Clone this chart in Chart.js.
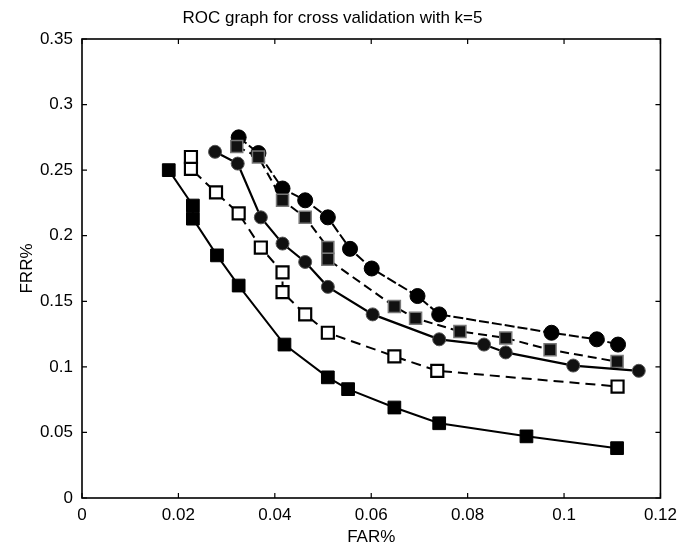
<!DOCTYPE html>
<html>
<head>
<meta charset="utf-8">
<script src="https://cdn.jsdelivr.net/npm/chart.js@4.4.1/dist/chart.umd.min.js"></script>
<style>
  html, body { margin: 0; padding: 0; background: #ffffff; }
  #wrap { width: 684px; height: 549px; }
</style>
</head>
<body>
<div id="wrap"><canvas id="c" width="684" height="549"></canvas></div>
<script>
// ---- data ----
const chartTitle = "ROC graph for cross validation with k=5";
const xAxisTitle = "FAR%";
const yAxisTitle = "FRR%";

const xTicks = [0, 0.02, 0.04, 0.06, 0.08, 0.10, 0.12];
const xTickLabels = ["0", "0.02", "0.04", "0.06", "0.08", "0.1", "0.12"];
const yTicks = [0, 0.05, 0.10, 0.15, 0.20, 0.25, 0.30, 0.35];
const yTickLabels = ["0", "0.05", "0.1", "0.15", "0.2", "0.25", "0.3", "0.35"];

// filled squares, solid line
const farA = [0.018, 0.023, 0.023, 0.028, 0.0325, 0.042, 0.051, 0.0552, 0.0648, 0.0741, 0.0922, 0.111];
const frrA = [0.250, 0.223, 0.213, 0.185, 0.162, 0.117, 0.092, 0.083, 0.069, 0.057, 0.047, 0.038];
// open squares, dashed line
const farB = [0.0226, 0.0226, 0.0278, 0.0325, 0.0371, 0.0416, 0.0416, 0.0463, 0.051, 0.0648, 0.0737, 0.1111];
const frrB = [0.260, 0.251, 0.233, 0.217, 0.191, 0.172, 0.157, 0.140, 0.126, 0.108, 0.097, 0.085];
// filled stars, solid line
const farC = [0.0276, 0.0323, 0.0371, 0.0416, 0.0463, 0.051, 0.0603, 0.0741, 0.0834, 0.0879, 0.1019, 0.1155];
const frrC = [0.264, 0.255, 0.214, 0.194, 0.180, 0.161, 0.140, 0.121, 0.117, 0.111, 0.101, 0.097];
// shaded squares, dashed line
const farD = [0.0321, 0.0366, 0.0416, 0.0463, 0.051, 0.051, 0.0648, 0.0692, 0.0784, 0.0879, 0.0971, 0.111];
const frrD = [0.268, 0.260, 0.227, 0.214, 0.191, 0.182, 0.146, 0.137, 0.127, 0.122, 0.113, 0.104];
// filled circles, dash line
const farE = [0.0325, 0.0366, 0.0416, 0.0463, 0.051, 0.0556, 0.0601, 0.0696, 0.0741, 0.0974, 0.1068, 0.1112];
const frrE = [0.275, 0.263, 0.236, 0.227, 0.214, 0.190, 0.175, 0.154, 0.140, 0.126, 0.121, 0.117];

// ---- chart ----
const FONT = "'Liberation Sans', Arial, Helvetica, sans-serif";
const pts = (xs, ys) => xs.map((x, i) => ({ x: x, y: ys[i] }));

const framePlugin = {
  id: 'frame',
  afterDraw(chart) {
    const { ctx, chartArea: a, scales } = chart;
    ctx.save();
    ctx.strokeStyle = '#000';
    ctx.lineWidth = 1.6;
    ctx.strokeRect(a.left, a.top, a.right - a.left, a.bottom - a.top);
    ctx.lineWidth = 1.2;
    const L = 5;
    ctx.beginPath();
    xTicks.forEach(v => {
      const px = scales.x.getPixelForValue(v);
      ctx.moveTo(px, a.bottom); ctx.lineTo(px, a.bottom - L);
      ctx.moveTo(px, a.top); ctx.lineTo(px, a.top + L);
    });
    yTicks.forEach(v => {
      const py = scales.y.getPixelForValue(v);
      ctx.moveTo(a.left, py); ctx.lineTo(a.left + L, py);
      ctx.moveTo(a.right, py); ctx.lineTo(a.right - L, py);
    });
    ctx.stroke();
    ctx.restore();
  }
};

const bgPlugin = {
  id: 'bg',
  beforeDraw(chart) {
    const ctx = chart.ctx;
    ctx.save();
    ctx.fillStyle = '#fff';
    ctx.fillRect(0, 0, chart.width, chart.height);
    ctx.restore();
  }
};

const common = { showLine: true, borderColor: '#000', pointBorderColor: '#000', tension: 0 };

new Chart(document.getElementById('c'), {
  type: 'scatter',
  data: {
    datasets: [
      Object.assign({}, common, {
        label: 'A', data: pts(farA, frrA), borderWidth: 2,
        pointStyle: 'rect', pointRadius: 9, pointBackgroundColor: '#000', pointBorderWidth: 1
      }),
      Object.assign({}, common, {
        label: 'B', data: pts(farB, frrB), borderWidth: 2, borderDash: [10, 6],
        pointStyle: 'rect', pointRadius: 8.5, pointBackgroundColor: '#fff', pointBorderWidth: 2.2
      }),
      Object.assign({}, common, {
        label: 'C', data: pts(farC, frrC), borderWidth: 2.2,
        pointStyle: 'circle', pointRadius: 6.5, pointBackgroundColor: '#111', pointBorderWidth: 1,
        pointBorderColor: '#555'
      }),
      Object.assign({}, common, {
        label: 'D', data: pts(farD, frrD), borderWidth: 2, borderDash: [9, 5],
        pointStyle: 'rect', pointRadius: 8.5, pointBackgroundColor: '#111', pointBorderWidth: 1.5,
        pointBorderColor: '#777'
      }),
      Object.assign({}, common, {
        label: 'E', data: pts(farE, frrE), borderWidth: 2, borderDash: [10, 3],
        pointStyle: 'circle', pointRadius: 7.5, pointBackgroundColor: '#000', pointBorderWidth: 1
      })
    ]
  },
  options: {
    responsive: false,
    animation: false,
    devicePixelRatio: 1,
    layout: { padding: { left: 0, right: 19, top: 0, bottom: 0 } },
    plugins: {
      legend: { display: false },
      tooltip: { enabled: false },
      title: {
        display: true, text: chartTitle, color: '#000',
        font: { family: FONT, size: 17, weight: 'normal', lineHeight: 1.2 },
        padding: { top: 8, bottom: 10.6 }
      }
    },
    scales: {
      x: {
        type: 'linear', min: 0, max: 0.12,
        afterBuildTicks: s => { s.ticks = xTicks.map(v => ({ value: v })); },
        afterFit: s => { s.height = 51; },
        grid: { display: false, drawTicks: false },
        border: { display: false },
        ticks: {
          color: '#000', padding: 7, maxRotation: 0, autoSkip: false,
          font: { family: FONT, size: 17 },
          callback: (v) => { const i = xTicks.findIndex(t => Math.abs(t - v) < 1e-9); return i >= 0 ? xTickLabels[i] : ''; }
        },
        title: { display: true, text: xAxisTitle, color: '#000', font: { family: FONT, size: 17 }, padding: { top: 0, bottom: 1 } }
      },
      y: {
        type: 'linear', min: 0, max: 0.35,
        afterBuildTicks: s => { s.ticks = yTicks.map(v => ({ value: v })); },
        afterFit: s => { s.width = 82; },
        grid: { display: false, drawTicks: false },
        border: { display: false },
        ticks: {
          color: '#000', padding: 9, autoSkip: false,
          font: { family: FONT, size: 17 },
          callback: (v) => { const i = yTicks.findIndex(t => Math.abs(t - v) < 1e-9); return i >= 0 ? yTickLabels[i] : ''; }
        },
        title: { display: true, text: yAxisTitle, color: '#000', font: { family: FONT, size: 17 }, padding: { top: 17, bottom: 0 } }
      }
    }
  },
  plugins: [bgPlugin, framePlugin]
});
</script>
</body>
</html>
